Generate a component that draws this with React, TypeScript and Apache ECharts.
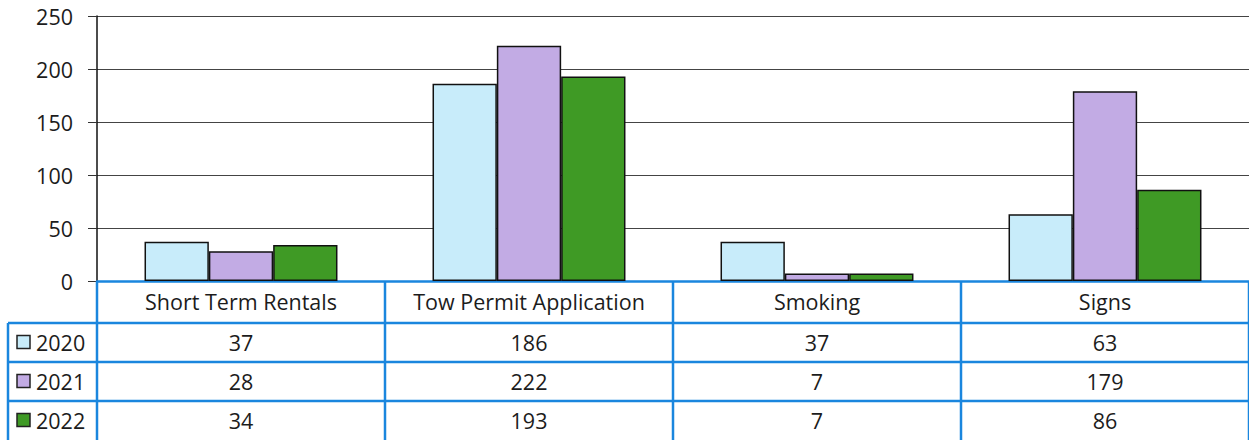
import React, { useEffect, useRef } from "react";
import * as echarts from "echarts";

const categories = ["Short Term Rentals", "Tow Permit Application", "Smoking", "Signs"];
const seriesNames = ["2020", "2021", "2022"];
const values2020 = [37, 186, 37, 63];
const values2021 = [28, 222, 7, 179];
const values2022 = [34, 193, 7, 86];
const yTicks = { min: 0, max: 250, interval: 50 };
const colors = ["#c8ecfa", "#c2abe4", "#3f9a25"];

const FONT = "'Open Sans', sans-serif";
const FS = 21.5;
const BLUE = "#1a86de";
const W = 1249;
const H = 440;
const GRID_TOP = 16;
const GRID_LEFT = 97;
const AXIS_Y = 281;
const ROW_TOPS = [323, 362, 401];
const ROW_H = 39;
const LEGEND_LEFT = 8;

export default function App() {
  const ref = useRef<HTMLDivElement>(null);
  useEffect(() => {
    if (!ref.current) return;
    const chart = echarts.init(ref.current, null, { renderer: "svg" });
    const allValues = [values2020, values2021, values2022];
    chart.setOption({
      animation: false,
      backgroundColor: "#ffffff",
      grid: { left: GRID_LEFT, right: 0, top: GRID_TOP, bottom: H - AXIS_Y, containLabel: false },
      xAxis: {
        type: "category",
        data: categories,
        axisLine: { lineStyle: { color: BLUE, width: 2.5 } },
        axisTick: { show: false },
        axisLabel: { color: "#1c1c1c", fontSize: FS, fontFamily: FONT, margin: 9, interval: 0 },
      },
      yAxis: {
        type: "value",
        min: yTicks.min,
        max: yTicks.max,
        interval: yTicks.interval,
        axisLine: { show: true, lineStyle: { color: "#111", width: 1.5 } },
        axisTick: { show: true, length: 9, lineStyle: { color: "#333" } },
        axisLabel: { color: "#1c1c1c", fontSize: FS, fontFamily: FONT, margin: 24 },
        splitLine: { lineStyle: { color: "#444", width: 1 } },
      },
      series: seriesNames.map((name, i) => ({
        name,
        type: "bar",
        data: allValues[i],
        barGap: "0%",
        barCategoryGap: "33%",
        itemStyle: { color: colors[i], borderColor: "#111", borderWidth: 1.5 },
      })),
    });

    // Build data table from library coordinates
    const c0 = chart.convertToPixel({ xAxisIndex: 0 }, 0) as number;
    const c1 = chart.convertToPixel({ xAxisIndex: 0 }, 1) as number;
    const step = c1 - c0;
    const bounds = categories.map((_, i) => c0 - step / 2 + i * step);
    bounds.push(c0 - step / 2 + categories.length * step);
    const elements: any[] = [];
    const lineStyle = { stroke: BLUE, lineWidth: 2.5 };
    bounds.forEach((x) => {
      elements.push({ type: "line", shape: { x1: x, y1: AXIS_Y, x2: x, y2: H }, style: lineStyle, z: 10 });
    });
    elements.push({ type: "line", shape: { x1: LEGEND_LEFT, y1: ROW_TOPS[0], x2: LEGEND_LEFT, y2: H }, style: lineStyle, z: 10 });
    ROW_TOPS.forEach((y) => {
      elements.push({ type: "line", shape: { x1: LEGEND_LEFT, y1: y, x2: W, y2: y }, style: lineStyle, z: 10 });
    });
    seriesNames.forEach((name, r) => {
      const cy = ROW_TOPS[r] + ROW_H / 2;
      elements.push({
        type: "rect",
        shape: { x: 17, y: cy - 7, width: 13, height: 13 },
        style: { fill: colors[r], stroke: "#222", lineWidth: 1.5 },
        z: 10,
      });
      elements.push({
        type: "text",
        x: 36,
        y: cy,
        style: { text: name, fill: "#1c1c1c", fontSize: FS, fontFamily: FONT, textVerticalAlign: "middle", textAlign: "left" },
        z: 10,
      });
      allValues[r].forEach((v, ci) => {
        const cx = chart.convertToPixel({ xAxisIndex: 0 }, ci) as number;
        elements.push({
          type: "text",
          x: cx,
          y: cy,
          style: { text: String(v), fill: "#1c1c1c", fontSize: FS, fontFamily: FONT, textAlign: "center", textVerticalAlign: "middle" },
          z: 10,
        });
      });
    });
    chart.setOption({ graphic: elements });
    return () => chart.dispose();
  }, []);
  return <div ref={ref} style={{ position: "absolute", left: 0, top: 0, width: W, height: H }} />;
}
